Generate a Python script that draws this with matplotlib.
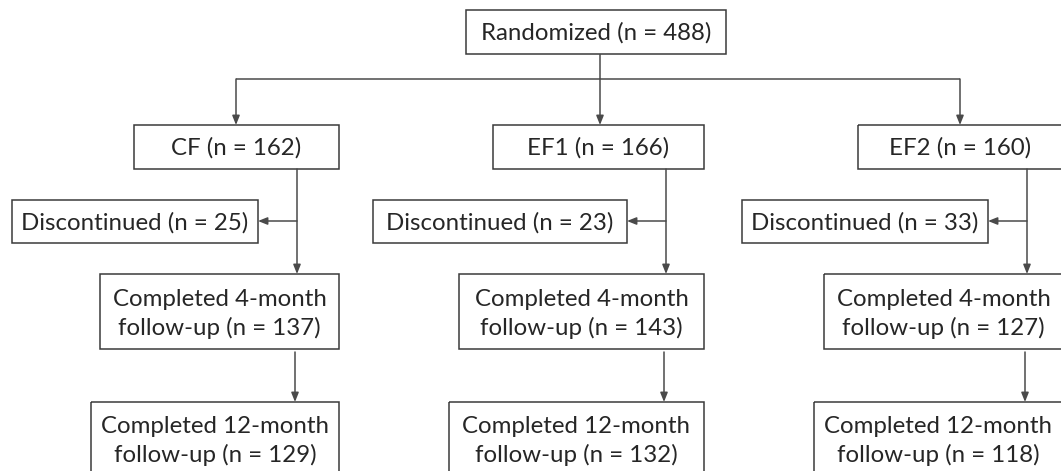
import matplotlib
matplotlib.use("Agg")
import matplotlib.pyplot as plt
from matplotlib.patches import Rectangle

# ---- data ----
randomized_n = 488
groups = ["CF", "EF1", "EF2"]
group_n = [162, 166, 160]
discontinued_n = [25, 23, 33]
completed4_n = [137, 143, 127]
completed12_n = [129, 132, 118]

# ---- layout (pixel coordinates, y downward) ----
W, H = 1061, 471
fig = plt.figure(figsize=(W / 100, H / 100), dpi=100)
ax = fig.add_axes([0, 0, 1, 1])
ax.set_xlim(0, W)
ax.set_ylim(H, 0)
ax.axis("off")

FONT = "Lato"
FS = 17.3
LS = 1.42
TXT = "#262626"
EDGE = "#3a3a3a"
LINE = "#4a4a4a"

def box(x0, x1, y0, y1, text, ty=None):
    ax.add_patch(Rectangle((x0, y0), x1 - x0, y1 - y0, fill=False,
                           edgecolor=EDGE, linewidth=1.1))
    if ty is None:
        ty = (y0 + y1) / 2 + 1
    ax.text((x0 + x1) / 2, ty, text, ha="center", va="center",
            fontsize=FS, family=FONT, color=TXT, linespacing=LS)

def line(xs, ys):
    ax.plot(xs, ys, color=LINE, lw=1.1, solid_capstyle="butt")

def arrow(x0, y0, x1, y1):
    ax.annotate("", xy=(x1, y1), xytext=(x0, y0),
                arrowprops=dict(arrowstyle="-|>,head_length=0.55,head_width=0.22",
                                color=LINE, lw=1.1, shrinkA=0, shrinkB=0))

# Randomized
box(466, 726, 10, 54, f"Randomized (n = {randomized_n})")
split_y = 79
line([600, 600], [54, split_y])

grp_box = [(134, 339), (493, 704), (858, 1063)]
arrow_x = [236, 600, 960]
trunk_x = [297, 666, 1027]
disc_box = [(12, 258), (373, 627), (742, 988)]
c4_box = [(100, 339), (459, 704), (824, 1063)]
c12_box = [(91, 339), (449, 704), (814, 1063)]
c4_arrow_x = [295, 664, 1025]

line([arrow_x[0], arrow_x[-1]], [split_y, split_y])

for i, g in enumerate(groups):
    arrow(arrow_x[i], split_y, arrow_x[i], 125)
    box(grp_box[i][0], grp_box[i][1], 125, 169, f"{g} (n = {group_n[i]})")
    # trunk down to 4-month
    arrow(trunk_x[i], 169, trunk_x[i], 274)
    # branch to discontinued
    arrow(trunk_x[i], 221, disc_box[i][1], 221)
    box(disc_box[i][0], disc_box[i][1], 200, 243,
        f"Discontinued (n = {discontinued_n[i]})")
    box(c4_box[i][0], c4_box[i][1], 274, 349,
        f"Completed 4-month\nfollow-up (n = {completed4_n[i]})", ty=314)
    arrow(c4_arrow_x[i], 352, c4_arrow_x[i], 402)
    box(c12_box[i][0], c12_box[i][1], 402, 482,
        f"Completed 12-month\nfollow-up (n = {completed12_n[i]})", ty=441)

fig.savefig("out.png", dpi=100, facecolor="white")
